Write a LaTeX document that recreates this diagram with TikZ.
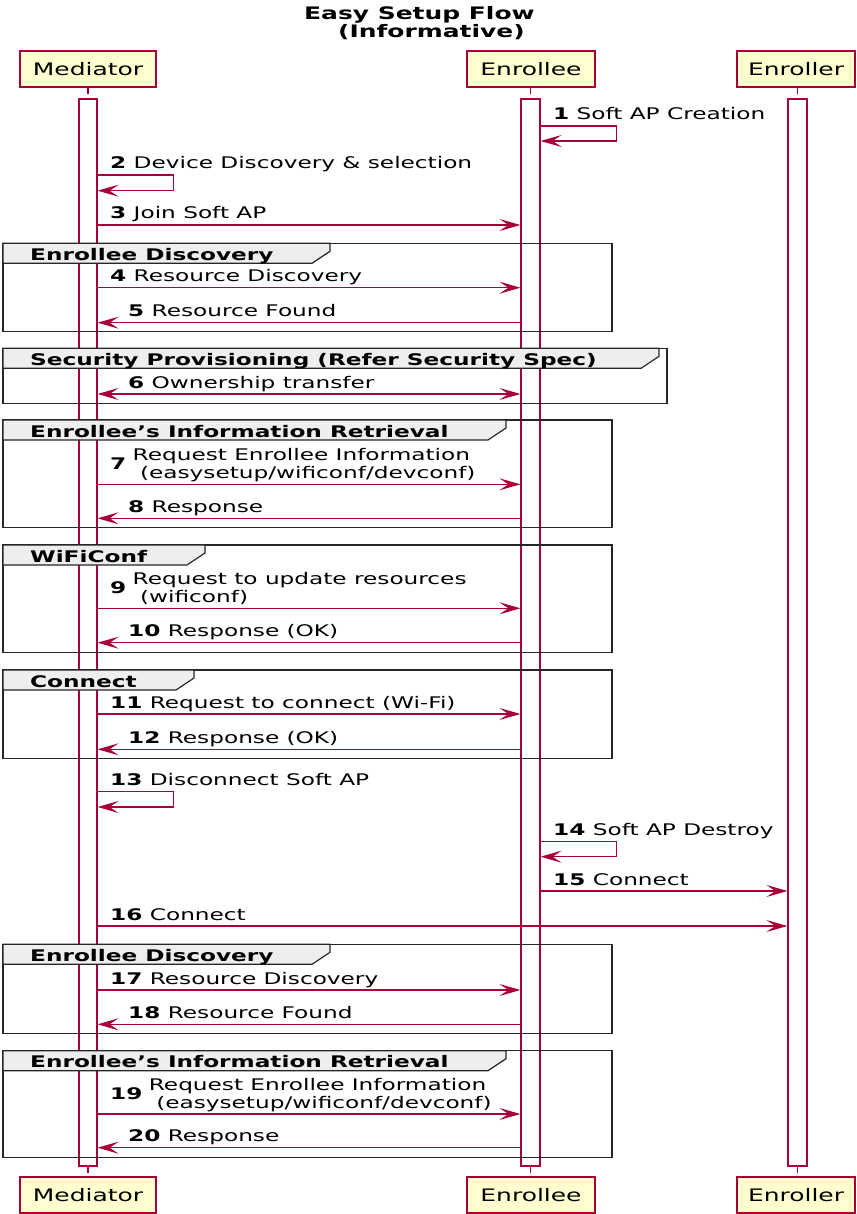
\documentclass[tikz,border=0pt]{standalone}
\usepackage{fontspec}
\setmainfont{DejaVu Sans}[FakeStretch=1.45]
\usetikzlibrary{arrows.meta}
\definecolor{pline}{HTML}{A80036}
\definecolor{pfill}{HTML}{FEFECE}
\definecolor{ghead}{HTML}{EEEEEE}
\definecolor{gline}{HTML}{262626}
\newcommand{\groupframe}[6]{%
  \draw[gbox] (3,#1) rectangle (#3,#2);
  \draw[ghdr] (3,#1) -- (#4,#1) -- (#4,#1+8) -- (#4-18,#1+20) -- (3,#1+20) -- cycle;
  \node[gtitle] (#6) at (30,#1+17) {#5};
}
\begin{document}
\begin{tikzpicture}[x=1pt,y=-1pt,
  participant/.style={draw=pline, fill=pfill, line width=2pt, minimum height=36pt,
    inner sep=0pt, text height=12.5pt, text depth=0pt, font=\fontsize{17.2}{20}\selectfont},
  actbar/.style={draw=pline, fill=white, line width=1.2pt, minimum height=1067pt, inner sep=0pt},
  lifeline/.style={draw=pline, line width=1.2pt, dash pattern=on 6pt off 6pt},
  msg/.style={draw=pline, line width=1.2pt, -{Stealth[length=21pt,width=12pt,inset=9pt]}},
  bimsg/.style={draw=pline, line width=1.2pt, {Stealth[length=21pt,width=12pt,inset=9pt]}-{Stealth[length=21pt,width=12pt,inset=9pt]}},
  lbl/.style={anchor=base west, inner sep=0pt, font=\fontsize{16}{18}\selectfont},
  gbox/.style={draw=gline, line width=1.5pt},
  ghdr/.style={draw=gline, line width=1.2pt, fill=ghead},
  gtitle/.style={anchor=base west, inner sep=0pt, font=\fontsize{16}{18}\selectfont\bfseries},
  ttl/.style={anchor=base west, inner sep=0pt, font=\fontsize{17.2}{20}\selectfont\bfseries}
]
\useasboundingbox (0,0) rectangle (856,1214);
\fill[white] (0,0) rectangle (856,1214);

% title
\node[ttl] (title1) at (304,20) {Easy Setup Flow};
\node[ttl] (title2) at (338,37.5) {(Informative)};

% participants
\node[participant, minimum width=136pt] (pM1) at (88,69) {Mediator};
\node[participant, minimum width=128pt] (pE1) at (531,69) {Enrollee};
\node[participant, minimum width=118pt] (pR1) at (796,69) {Enroller};
\node[participant, minimum width=136pt] (pM2) at (88,1195) {Mediator};
\node[participant, minimum width=128pt] (pE2) at (531,1195) {Enrollee};
\node[participant, minimum width=118pt] (pR2) at (796,1195) {Enroller};

% activation bars
\node[actbar, minimum width=18pt] (actM) at (88,632.5) {};
\node[actbar, minimum width=19pt] (actE) at (530.5,632.5) {};
\node[actbar, minimum width=19pt] (actR) at (797.5,632.5) {};

% lifeline stubs
\draw[lifeline] (pM1.south) -- (actM.north);
\draw[lifeline] (pE1.south -| actE.north) -- (actE.north);
\draw[lifeline] (pR1.south -| actR.north) -- (actR.north);
\draw[lifeline] (actM.south) -- (pM2.north);
\draw[lifeline] (actE.south) -- (actE.south |- pE2.north);
\draw[lifeline] (actR.south) -- (actR.south |- pR2.north);

% groups
\groupframe{243.3}{331.7}{612}{330}{Enrollee Discovery}{g1}
\groupframe{348.3}{403.3}{667}{659}{Security Provisioning (Refer Security Spec)}{g2}
\groupframe{420}{527.7}{612}{506}{Enrollee’s Information Retrieval}{g3}
\groupframe{545}{652.7}{612}{205}{WiFiConf}{g4}
\groupframe{670}{758.3}{612}{194}{Connect}{g5}
\groupframe{944.3}{1033.3}{612}{330}{Enrollee Discovery}{g6}
\groupframe{1050.7}{1157.7}{612}{506}{Enrollee’s Information Retrieval}{g7}

% 1
\draw[msg] (actE.east |- 0,126) -- ++(76,0) -- ++(0,15) -- (actE.east |- 0,141);
\node[lbl] (l1) at (553,120) {\textbf{1} Soft AP Creation};
% 2
\draw[msg] (actM.east |- 0,175) -- ++(76,0) -- ++(0,15.7) -- (actM.east |- 0,190.7);
\node[lbl] (l2) at (110,169) {\textbf{2} Device Discovery \& selection};
% 3
\draw[msg] (actM.east |- 0,225) -- (actE.west |- 0,225);
\node[lbl] (l3) at (110,219) {\textbf{3} Join Soft AP};
% 4
\draw[msg] (actM.east |- 0,287.7) -- (actE.west |- 0,287.7);
\node[lbl] (l4) at (110,281.7) {\textbf{4} Resource Discovery};
% 5
\draw[msg] (actE.west |- 0,322.7) -- (actM.east |- 0,322.7);
\node[lbl] (l5) at (128,316.7) {\textbf{5} Resource Found};
% 6
\draw[bimsg] (actM.east |- 0,394) -- (actE.west |- 0,394);
\node[lbl] (l6) at (128,388) {\textbf{6} Ownership transfer};
% 7
\draw[msg] (actM.east |- 0,484.3) -- (actE.west |- 0,484.3);
\node[lbl] (n7) at (110,469.3) {\textbf{7}};
\node[lbl] (l7a) at ([xshift=6pt]n7.east |- 0,460.3) {Request Enrollee Information};
\node[lbl] (l7b) at ([xshift=6pt]n7.east |- 0,478.3) {\mbox{}\ (easysetup/wificonf/devconf)};
% 8
\draw[msg] (actE.west |- 0,518.3) -- (actM.east |- 0,518.3);
\node[lbl] (l8) at (128,512.3) {\textbf{8} Response};
% 9
\draw[msg] (actM.east |- 0,608.3) -- (actE.west |- 0,608.3);
\node[lbl] (n9) at (110,593.3) {\textbf{9}};
\node[lbl] (l9a) at ([xshift=6pt]n9.east |- 0,584.3) {Request to update resources};
\node[lbl] (l9b) at ([xshift=6pt]n9.east |- 0,602.3) {\mbox{}\ (wificonf)};
% 10
\draw[msg] (actE.west |- 0,642.7) -- (actM.east |- 0,642.7);
\node[lbl] (l10) at (128,636.7) {\textbf{10} Response (OK)};
% 11
\draw[msg] (actM.east |- 0,714) -- (actE.west |- 0,714);
\node[lbl] (l11) at (110,708) {\textbf{11} Request to connect (Wi-Fi)};
% 12
\draw[msg] (actE.west |- 0,749.3) -- (actM.east |- 0,749.3);
\node[lbl] (l12) at (128,743.3) {\textbf{12} Response (OK)};
% 13
\draw[msg] (actM.east |- 0,791.7) -- ++(76,0) -- ++(0,15.3) -- (actM.east |- 0,807);
\node[lbl] (l13) at (110,785.7) {\textbf{13} Disconnect Soft AP};
% 14
\draw[msg] (actE.east |- 0,841.7) -- ++(76,0) -- ++(0,15) -- (actE.east |- 0,856.7);
\node[lbl] (l14) at (553,835.7) {\textbf{14} Soft AP Destroy};
% 15
\draw[msg] (actE.east |- 0,891) -- (actR.west |- 0,891);
\node[lbl] (l15) at (553,885) {\textbf{15} Connect};
% 16
\draw[msg] (actM.east |- 0,926) -- (actR.west |- 0,926);
\node[lbl] (l16) at (110,920) {\textbf{16} Connect};
% 17
\draw[msg] (actM.east |- 0,990) -- (actE.west |- 0,990);
\node[lbl] (l17) at (110,984) {\textbf{17} Resource Discovery};
% 18
\draw[msg] (actE.west |- 0,1024.3) -- (actM.east |- 0,1024.3);
\node[lbl] (l18) at (128,1018.3) {\textbf{18} Resource Found};
% 19
\draw[msg] (actM.east |- 0,1114) -- (actE.west |- 0,1114);
\node[lbl] (n19) at (110,1099) {\textbf{19}};
\node[lbl] (l19a) at ([xshift=6pt]n19.east |- 0,1090) {Request Enrollee Information};
\node[lbl] (l19b) at ([xshift=6pt]n19.east |- 0,1108) {\mbox{}\ (easysetup/wificonf/devconf)};
% 20
\draw[msg] (actE.west |- 0,1147.7) -- (actM.east |- 0,1147.7);
\node[lbl] (l20) at (128,1141.7) {\textbf{20} Response};
\end{tikzpicture}
\end{document}
